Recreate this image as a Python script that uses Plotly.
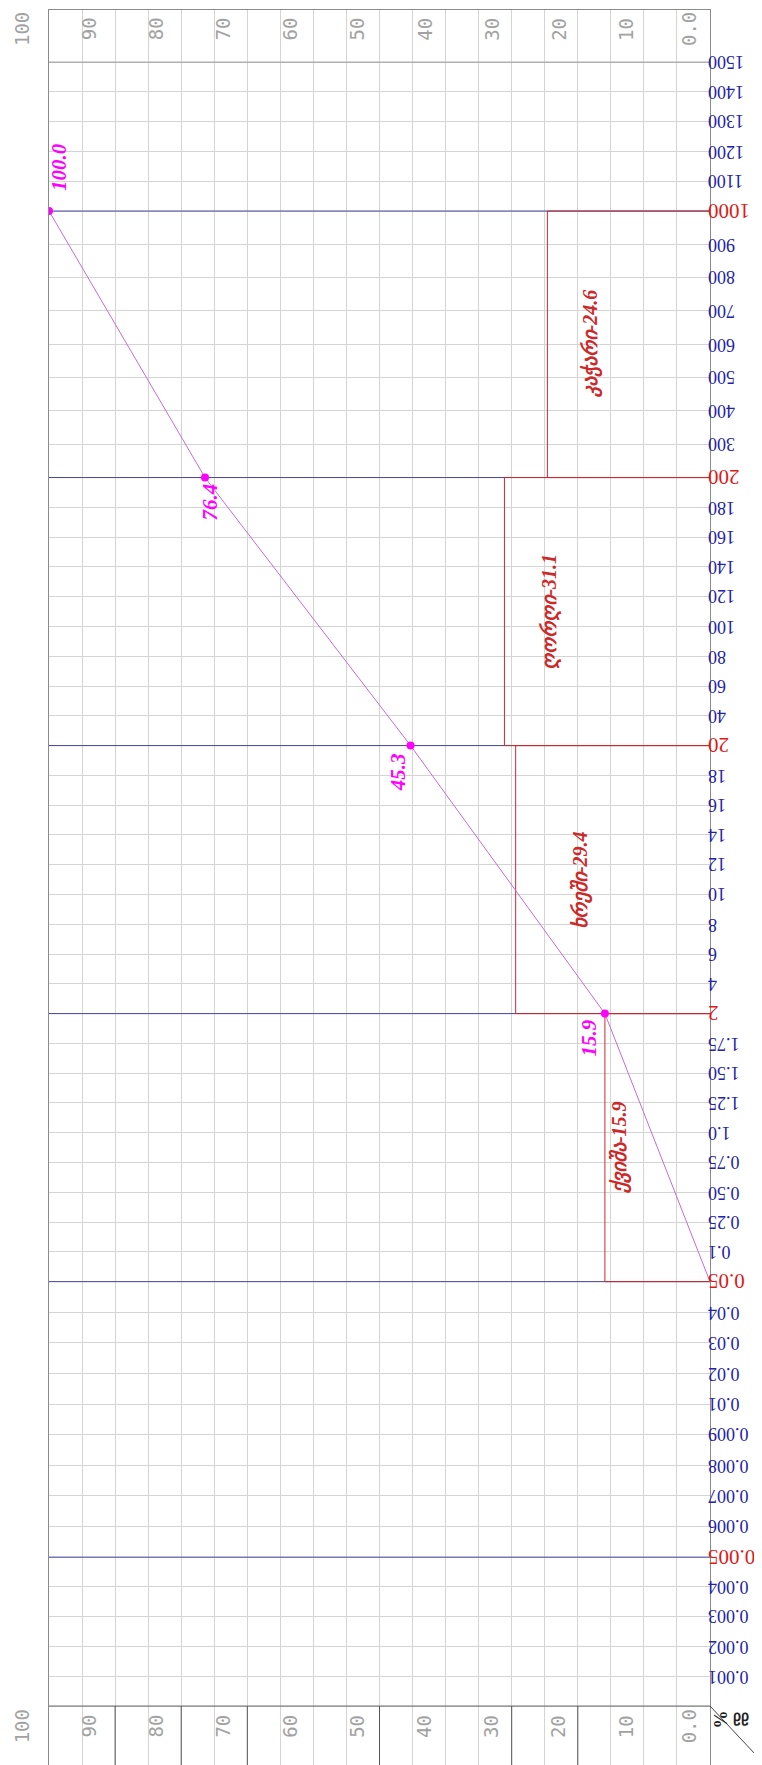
import numpy as np
import plotly.graph_objects as go

# ---------------- data ----------------
size_ticks = [0.001, 0.002, 0.003, 0.004, 0.005,
              0.006, 0.007, 0.008, 0.009, 0.01, 0.02, 0.03, 0.04,
              0.05,
              0.1, 0.25, 0.5, 0.75, 1.0, 1.25, 1.5, 1.75,
              2,
              4, 6, 8, 10, 12, 14, 16, 18,
              20,
              40, 60, 80, 100, 120, 140, 160, 180,
              200,
              300, 400, 500, 600, 700, 800, 900,
              1000,
              1100, 1200, 1300, 1400, 1500]
size_tick_labels = ["0.001", "0.002", "0.003", "0.004", "0.005",
                    "0.006", "0.007", "0.008", "0.009", "0.01", "0.02", "0.03", "0.04",
                    "0.05",
                    "0.1", "0.25", "0.50", "0.75", "1.0", "1.25", "1.50", "1.75",
                    "2",
                    "4", "6", "8", "10", "12", "14", "16", "18",
                    "20",
                    "40", "60", "80", "100", "120", "140", "160", "180",
                    "200",
                    "300", "400", "500", "600", "700", "800", "900",
                    "1000",
                    "1100", "1200", "1300", "1400", "1500"]
boundaries = [0.005, 0.05, 2, 20, 200, 1000]

fraction_names = ["ქვიშა", "ხრეში", "ღორღი", "კაჭარი"]
fraction_low = [0.05, 2, 20, 200]
fraction_high = [2, 20, 200, 1000]
fraction_pct = [15.9, 29.4, 31.1, 24.6]

curve_size = [0.05, 2, 20, 200, 1000]
curve_pct = [0.0, 15.9, 45.3, 76.4, 100.0]
curve_labels = ["", "15.9", "45.3", "76.4", "100.0"]

pct_ticks = [100, 90, 80, 70, 60, 50, 40, 30, 20, 10, 0]
pct_tick_labels = ["100", "90", "80", "70", "60", "50", "40", "30", "20", "10", "0.0"]
bottom_dark_pct = [90, 80, 70, 50, 30, 20]

# ---------------- scale (piecewise grain-size axis) ----------------
anchor_sizes = [0.001, 0.005, 0.05, 2, 20, 200, 1000, 1500]
anchor_units = [1.0, 5.0, 14.25, 23.25, 32.25, 41.25, 50.2, 55.2]
tick_u = np.zeros(len(size_ticks))
idx = [size_ticks.index(a) for a in anchor_sizes]
for (i0, i1, u0, u1) in zip(idx[:-1], idx[1:], anchor_units[:-1], anchor_units[1:]):
    tick_u[i0:i1 + 1] = np.linspace(u0, u1, i1 - i0 + 1)


def U(s):
    return np.interp(s, size_ticks, tick_u)


def serif_width(text, size):
    # Liberation Serif (Times metrics): digits 0.5em, period 0.25em
    return size * sum(0.25 if c == "." else 0.5 for c in text)


Y_BOTTOM = -2.148
Y_TOP = 56.95

BLUE = "#45459e"
RED = "#cc2a2a"
MAG = "#ff00ff"
SERIF = "Liberation Serif, Times New Roman, serif"

fig = go.Figure()

# blue boundary lines
bx, by = [], []
for b in boundaries:
    bx += [100, 0, None]
    by += [U(b), U(b), None]
fig.add_trace(go.Scatter(x=bx, y=by, mode="lines", line=dict(color=BLUE, width=1),
                         hoverinfo="skip", showlegend=False))

# red fraction boxes
for lo, hi, p in zip(fraction_low, fraction_high, fraction_pct):
    fig.add_trace(go.Scatter(x=[0, p, p, 0], y=[U(lo), U(lo), U(hi), U(hi)], mode="lines",
                             line=dict(color=RED, width=1), hoverinfo="skip", showlegend=False))

# cumulative curve
fig.add_trace(go.Scatter(x=curve_pct, y=U(curve_size), mode="lines",
                         line=dict(color="#c86ad8", width=1), showlegend=False, hoverinfo="skip"))
fig.add_trace(go.Scatter(x=curve_pct[1:], y=U(curve_size[1:]), mode="markers",
                         marker=dict(color=MAG, size=8), showlegend=False, hoverinfo="skip"))

annotations = []
# right-hand size labels (upside down, left edges aligned just right of the frame)
for s, lab, u in zip(size_ticks, size_tick_labels, tick_u):
    major = s in boundaries
    fs = 21 if major else 18
    annotations.append(dict(
        x=1, xref="paper", y=u, yref="y", xanchor="center", yanchor="middle",
        xshift=-2 + serif_width(lab, fs) / 2, borderpad=0,
        text=lab, showarrow=False, textangle=180,
        font=dict(family=SERIF, size=fs, color="#e01818" if major else "#2222aa")))

# curve value labels
label_shift = [(0, 0), (-16, -24), (-13, -27), (5, -25), (10, 44)]
for p, s, lab, (dx, dy) in zip(curve_pct, curve_size, curve_labels, label_shift):
    if not lab:
        continue
    annotations.append(dict(
        x=p, y=U(s), text="<b><i>%s</i></b>" % lab, showarrow=False, textangle=-90,
        xshift=dx, yshift=dy, font=dict(family=SERIF, size=21, color=MAG)))

# fraction box labels
box_label_x = [13.7, 19.6, 24.2, 18.0]
for name, lo, hi, p, lx in zip(fraction_names, fraction_low, fraction_high, fraction_pct, box_label_x):
    annotations.append(dict(
        x=lx, y=(U(lo) + U(hi)) / 2, text="<b><i>%s-%s</i></b>" % (name, p), showarrow=False,
        textangle=-90, font=dict(family=SERIF, size=20, color=RED)))

# header percent labels (top and bottom)
for p, lab in zip(pct_ticks, pct_tick_labels):
    for yy, ys in [((55.2 + Y_TOP) / 2, 7), (-0.95, 8)]:
        annotations.append(dict(
            x=p, y=yy, text=lab, showarrow=False, textangle=-90, yshift=ys,
            xshift=-(17 + 0.1 * p) if p > 0 else -21,
            font=dict(family="DejaVu Sans Mono", size=19, color="#a2a2a2")))

# corner cell
annotations.append(dict(x=1.035, xref="paper", y=-0.45, yref="y", text="<b>%</b>", showarrow=False,
                        textangle=-90, font=dict(family=SERIF, size=18, color="#222")))
annotations.append(dict(x=1.062, xref="paper", y=-0.4, yref="y", text="<b>მმ</b>", showarrow=False,
                        textangle=180, font=dict(family=SERIF, size=15, color="#222")))

shapes = []
# header separator lines
shapes.append(dict(type="line", xref="x", yref="y", x0=100, x1=0, y0=0, y1=0,
                   line=dict(color="#777", width=1.2)))
shapes.append(dict(type="line", xref="x", yref="y", x0=100, x1=0, y0=U(1500), y1=U(1500),
                   line=dict(color="#999", width=1)))
for p in bottom_dark_pct:
    shapes.append(dict(type="line", xref="x", yref="y", x0=p, x1=p, y0=0, y1=Y_BOTTOM,
                       line=dict(color="#555", width=1)))
# corner diagonal and extended bottom border
shapes.append(dict(type="line", xref="paper", yref="y", x0=1, x1=1.0908, y0=0, y1=Y_BOTTOM,
                   line=dict(color="#444", width=1)))
shapes.append(dict(type="line", xref="paper", yref="paper", x0=0, x1=1.0908, y0=0, y1=0,
                   line=dict(color="#333", width=2)))

fig.update_layout(
    width=762, height=1765,
    margin=dict(l=41, r=60, t=2, b=3),
    paper_bgcolor="white", plot_bgcolor="white",
    annotations=annotations, shapes=shapes,
    xaxis=dict(range=[100, 0], tickvals=list(range(0, 101, 5)), showticklabels=False,
               showgrid=True, gridcolor="#d4d4d4", gridwidth=1, zeroline=False,
               showline=True, mirror=True, linecolor="#8a8a8a", linewidth=1, ticks=""),
    yaxis=dict(range=[Y_BOTTOM, Y_TOP], tickvals=list(tick_u), showticklabels=False,
               showgrid=True, gridcolor="#d4d4d4", gridwidth=1, zeroline=False,
               showline=True, mirror=True, linecolor="#8a8a8a", linewidth=1, ticks=""),
)

fig.write_html("out.html")
